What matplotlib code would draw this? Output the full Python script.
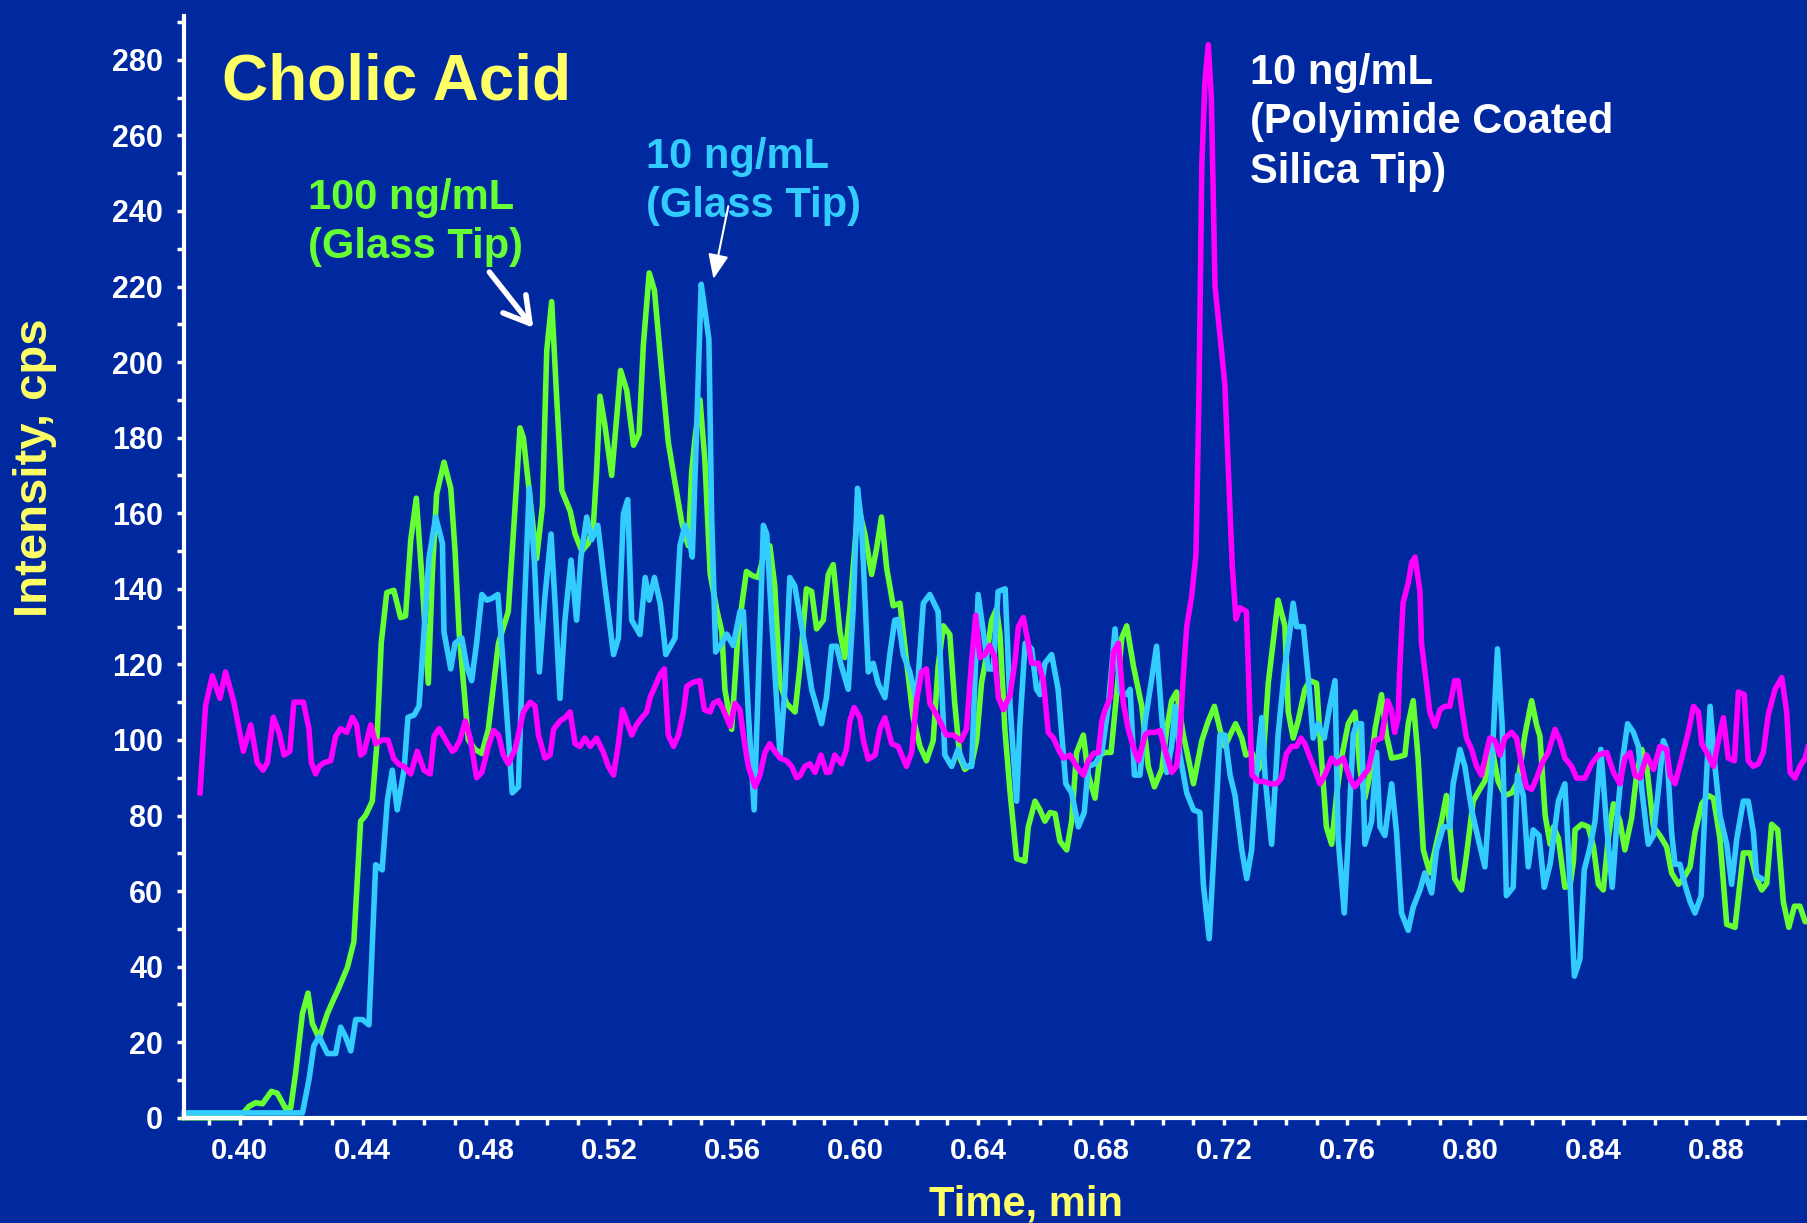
import matplotlib.pyplot as plt
from matplotlib.ticker import MultipleLocator, FormatStrFormatter

# --- data (time in min, intensity in cps) ---
t_green = [0.382, 0.3998, 0.403, 0.4052, 0.4074, 0.4103, 0.4122, 0.4149, 0.4166, 0.4182,
           0.4204, 0.4222, 0.4236, 0.4258, 0.4285, 0.4301, 0.4323, 0.435, 0.4371, 0.4393,
           0.4409, 0.4431, 0.4445, 0.446, 0.4478, 0.4501, 0.4523, 0.4539, 0.4556, 0.4574,
           0.4594, 0.4613, 0.4626, 0.464, 0.4664, 0.4686, 0.47, 0.4713, 0.4743, 0.4765,
           0.4787, 0.4808, 0.4841, 0.4873, 0.4893, 0.4911, 0.4922, 0.4944, 0.4965, 0.4984,
           0.4998, 0.5014, 0.503, 0.5047, 0.5074, 0.509, 0.5112, 0.5133, 0.515, 0.516,
           0.5171, 0.5187, 0.5209, 0.5225, 0.5238, 0.5258, 0.528, 0.5298, 0.5312, 0.5331,
           0.5348, 0.5372, 0.5393, 0.5415, 0.5437, 0.5458, 0.5469, 0.548, 0.5496, 0.5512,
           0.5529, 0.555, 0.5567, 0.5577, 0.5599, 0.562, 0.5647, 0.5666, 0.5685, 0.5707,
           0.5723, 0.5739, 0.5756, 0.5777, 0.5805, 0.5821, 0.5842, 0.5859, 0.5875, 0.5897,
           0.5913, 0.5929, 0.5951, 0.5967, 0.5983, 0.601, 0.6032, 0.6054, 0.607, 0.6086,
           0.6103, 0.6124, 0.6146, 0.6167, 0.6189, 0.6211, 0.6232, 0.6254, 0.627, 0.6287,
           0.6308, 0.6324, 0.6341, 0.6357, 0.6379, 0.6395, 0.6411, 0.6428, 0.6444, 0.646,
           0.6471, 0.6487, 0.6504, 0.6525, 0.6552, 0.6563, 0.6585, 0.6601, 0.6617, 0.6634,
           0.665, 0.6666, 0.6688, 0.6704, 0.672, 0.6742, 0.6758, 0.678, 0.6796, 0.6812,
           0.6832, 0.685, 0.6867, 0.6883, 0.6905, 0.6932, 0.6953, 0.6973, 0.6997, 0.7013,
           0.7029, 0.7045, 0.7067, 0.7083, 0.71, 0.7127, 0.7148, 0.7168, 0.7186, 0.7202,
           0.7219, 0.7237, 0.7257, 0.727, 0.7289, 0.7311, 0.7327, 0.7343, 0.7375, 0.7397,
           0.7408, 0.7424, 0.744, 0.7462, 0.7478, 0.75, 0.7516, 0.7532, 0.7549, 0.7565,
           0.7581, 0.7603, 0.7625, 0.7641, 0.7657, 0.7673, 0.769, 0.7711, 0.7727, 0.7744,
           0.7765, 0.7787, 0.7798, 0.7814, 0.783, 0.7847, 0.7868, 0.7885, 0.7906, 0.7922,
           0.7933, 0.7949, 0.7971, 0.7987, 0.8009, 0.803, 0.8047, 0.8069, 0.809, 0.8112,
           0.8134, 0.8155, 0.8177, 0.8199, 0.8215, 0.8226, 0.8243, 0.8259, 0.827, 0.8286,
           0.8307, 0.8324, 0.8335, 0.834, 0.8362, 0.8383, 0.84, 0.8416, 0.8432, 0.8448,
           0.8465, 0.8486, 0.8502, 0.8524, 0.854, 0.8557, 0.8573, 0.8595, 0.8616, 0.8638,
           0.8654, 0.8676, 0.8692, 0.8714, 0.873, 0.8752, 0.8773, 0.879, 0.8811, 0.8833,
           0.886, 0.8887, 0.8909, 0.893, 0.8947, 0.8963, 0.8979, 0.8999, 0.9017, 0.9035,
           0.9053, 0.9071, 0.9088, 0.91]
v_green = [0, 0, 3, 4, 3.7, 7, 6.5, 2.5, 2.7, 12,
           27.6, 33, 25, 21, 27.6, 30.6, 34.5, 39.8, 46.6, 78.5,
           80, 83.8, 98, 125.6, 139, 139.6, 132.4, 132.8, 153, 164,
           140.8, 115, 143.8, 165, 173.5, 166.6, 150, 128.6, 100, 97.5,
           96.4, 102.8, 125.6, 134, 159, 182.6, 180, 163.6, 148, 162,
           203, 216, 191, 166, 160.6, 154.5, 150, 152, 157.5, 171,
           191, 183.3, 170, 185, 197.8, 192.5, 178, 181, 204.6, 223.6,
           219, 197, 178.8, 168, 157.5, 151.4, 171, 180, 190, 174,
           144, 134.7, 128.6, 113.4, 102.8, 128.6, 144.6, 143.5, 143, 150,
           151.4, 140.8, 115, 109.7, 107.4, 119.5, 140, 139.3, 129.4, 131.7,
           143.8, 146.4, 128.6, 121.8, 134.7, 162, 154.5, 143.8, 150.7, 159,
           145.4, 135.5, 136.2, 121, 105.9, 98.3, 94.5, 99.8, 119.5, 130.2,
           127.9, 109.7, 95.2, 92.2, 93.7, 99.8, 115, 122.6, 131.7, 134.7,
           128, 102.8, 86, 68.6, 67.9, 77, 83.8, 81.5, 78.5, 80.8,
           80.5, 73.2, 70.9, 78.5, 96.7, 101.3, 90.7, 84.6, 96, 96.7,
           96.7, 112, 127, 130.2, 119.5, 108.9, 93, 87.6, 92.2, 102.8,
           110.4, 112.7, 101.3, 95.2, 88.4, 99.8, 105, 108.9, 102.8, 98.3,
           101.3, 104.3, 100.5, 96, 96.7, 92.2, 96, 115, 137, 130.2,
           107.4, 100.5, 105, 113.4, 115.7, 115, 95.2, 77, 72.4, 85.3,
           95.2, 104.3, 107.4, 92.2, 84.6, 90.7, 102.8, 112, 101.3, 95.2,
           95.5, 96, 104.3, 110.4, 95.2, 70.9, 64.8, 70.9, 78.5, 85.3,
           77, 63.3, 60.3, 69.4, 83.8, 86.9, 89.1, 98.3, 89.1, 85.3,
           86, 89.1, 101.3, 110.4, 104, 101, 80, 72.4, 77, 74,
           61, 61.5, 67.9, 76.2, 77.7, 77, 71.7, 61.8, 60.3, 74,
           83.1, 78.5, 70.9, 79.3, 90.7, 97.5, 93, 77, 74.7, 71.7,
           64.8, 61.8, 63.3, 66.4, 75.5, 83.1, 85.3, 84.6, 74, 51.2,
           50.4, 70.1, 70.1, 63.3, 60.3, 62, 77.7, 76.2, 57.2, 50.4,
           56, 56, 51.9, 52]

t_cyan = [0.382, 0.4204, 0.4225, 0.4241, 0.4258, 0.4285, 0.4312, 0.4328, 0.4344, 0.4361,
          0.4377, 0.4399, 0.442, 0.4442, 0.4463, 0.448, 0.4496, 0.4512, 0.4534, 0.4547,
          0.4567, 0.4583, 0.4599, 0.4615, 0.4637, 0.4659, 0.4664, 0.4686, 0.47, 0.4722,
          0.4738, 0.4754, 0.477, 0.4787, 0.4803, 0.482, 0.4839, 0.4857, 0.4873, 0.4886,
          0.4906, 0.4922, 0.4941, 0.4958, 0.4974, 0.4992, 0.5012, 0.5025, 0.5041, 0.5057,
          0.5077, 0.5095, 0.5109, 0.5128, 0.5144, 0.5164, 0.5187, 0.5215, 0.5231, 0.5247,
          0.5261, 0.5274, 0.5301, 0.5318, 0.5331, 0.5348, 0.5367, 0.5385, 0.5415, 0.5431,
          0.5447, 0.5458, 0.5471, 0.5485, 0.55, 0.5512, 0.5525, 0.5534, 0.5547, 0.5567,
          0.5583, 0.5604, 0.5626, 0.5637, 0.5653, 0.5672, 0.5685, 0.5702, 0.5713, 0.5729,
          0.5756, 0.5772, 0.5788, 0.5804, 0.5826, 0.5842, 0.5859, 0.5891, 0.5907, 0.5924,
          0.594, 0.5956, 0.5978, 0.5994, 0.6008, 0.6021, 0.6032, 0.6043, 0.6059, 0.6075,
          0.6097, 0.6113, 0.6129, 0.614, 0.6157, 0.6178, 0.62, 0.6222, 0.6243, 0.627,
          0.6292, 0.6314, 0.6335, 0.6357, 0.6379, 0.64, 0.6417, 0.6433, 0.6449, 0.6465,
          0.6488, 0.6504, 0.6525, 0.6536, 0.6553, 0.6574, 0.659, 0.6601, 0.6617, 0.6639,
          0.666, 0.6672, 0.6685, 0.6704, 0.6726, 0.6745, 0.6758, 0.678, 0.6802, 0.6823,
          0.6845, 0.6861, 0.6883, 0.6894, 0.6908, 0.6926, 0.6943, 0.6962, 0.698, 0.6997,
          0.7013, 0.7029, 0.704, 0.7056, 0.7078, 0.71, 0.7121, 0.7132, 0.7151, 0.717,
          0.7186, 0.7202, 0.7219, 0.7235, 0.7257, 0.7273, 0.7289, 0.7306, 0.7322, 0.7333,
          0.7354, 0.7375, 0.7397, 0.7413, 0.7424, 0.7435, 0.7457, 0.7473, 0.7489, 0.7505,
          0.7525, 0.7543, 0.756, 0.757, 0.759, 0.7603, 0.7619, 0.763, 0.7646, 0.7657,
          0.7679, 0.7695, 0.7706, 0.7722, 0.7744, 0.776, 0.7776, 0.7798, 0.7814, 0.7836,
          0.7852, 0.7874, 0.789, 0.7912, 0.7933, 0.7944, 0.7966, 0.7982, 0.8004, 0.8025,
          0.8047, 0.8069, 0.8088, 0.8103, 0.8117, 0.8139, 0.8153, 0.8172, 0.8188, 0.8204,
          0.8223, 0.824, 0.8259, 0.8286, 0.8307, 0.8324, 0.8338, 0.8356, 0.837, 0.8389,
          0.8405, 0.8424, 0.8443, 0.8461, 0.8479, 0.8494, 0.8511, 0.853, 0.8546, 0.8557,
          0.8578, 0.8595, 0.8611, 0.8627, 0.8638, 0.8654, 0.8665, 0.8681, 0.8697, 0.8714,
          0.873, 0.875, 0.8763, 0.8779, 0.8795, 0.8811, 0.8833, 0.8849, 0.8866, 0.8887,
          0.8903, 0.892, 0.893, 0.8947]
v_cyan = [1.3, 1.3, 10, 19, 21.5, 17, 17, 24, 21.5, 17.7,
          26, 26, 24.6, 67, 65.6, 84, 92, 81.5, 92, 106,
          106.6, 109, 128.6, 148, 159, 152, 128.6, 118.8, 125.6, 127,
          119.5, 115.7, 125.6, 138.5, 137, 137.5, 138.5, 119.5, 101.3, 86,
          87.6, 128.6, 166.6, 147, 118, 137.8, 154.5, 136.2, 111, 131.7,
          147.6, 131.7, 148.4, 159, 153, 156.8, 140.8, 122.6, 127, 159.8,
          163.6, 131.7, 127.9, 143, 137, 143, 136, 122.6, 127, 151.4,
          156.8, 154.5, 148.4, 181.8, 220.6, 213.7, 206, 159, 123.3, 125.6,
          128, 125, 134, 134, 107.4, 81.5, 113.4, 156.8, 154.5, 131.7,
          96, 113.4, 143, 140.8, 130.2, 122.6, 113.4, 104.3, 111.2, 124.8,
          124.8, 119.5, 113.4, 134.7, 166.6, 157.5, 137.8, 118, 120.3, 115,
          111.2, 122.6, 131.7, 131.9, 122.6, 118, 110.4, 136.2, 138.5, 134,
          96, 93, 97.5, 93, 93, 138.5, 128.6, 118.8, 118.8, 139.3,
          140, 108.9, 83.8, 104.3, 125.6, 124.1, 113.4, 112, 120.3, 122.6,
          113.4, 101.3, 88.4, 86, 77, 80.8, 93, 93.7, 96.7, 108.9,
          129.4, 112.7, 112, 113.4, 90.7, 90.7, 105, 115, 124.8, 105.9,
          91.4, 98.3, 108.9, 96, 86, 81.5, 80.8, 61.8, 47.4, 75.5,
          101.3, 101.3, 90.7, 85.3, 70.9, 63.3, 70.9, 92.2, 105.9, 90,
          72.4, 101.3, 119.5, 128.6, 136.2, 130, 130, 116.5, 100.5, 104.3,
          100.5, 108.9, 115.7, 74, 54.2, 74, 101.3, 104.3, 104.3, 72.4,
          78.5, 96.7, 77, 74.7, 88.4, 75.5, 54.2, 49.6, 55.7, 60.3,
          64.8, 59.5, 70.9, 77, 77, 88.4, 97.5, 93, 81.5, 74,
          66.4, 92.2, 124.1, 104.3, 58.8, 61, 90.7, 85.3, 66.4, 76.2,
          74.7, 61, 67.1, 83.8, 88.4, 61.8, 37.5, 42, 65.6, 71.7,
          78.5, 97.5, 77, 61, 81.5, 94.5, 104.3, 102, 98.3, 86.9,
          72.4, 74.7, 86.9, 99.8, 97.5, 75.5, 67.1, 67.1, 61.8, 57.2,
          54.2, 58.8, 83.1, 108.9, 93, 80, 72.4, 61.8, 74, 83.8,
          83.8, 75.5, 64.1, 63.3]

t_magenta = [0.3871, 0.3889, 0.3911, 0.3936, 0.3954, 0.3981, 0.4012, 0.4036, 0.4057, 0.4076,
             0.409, 0.4109, 0.4128, 0.4144, 0.4163, 0.4176, 0.4207, 0.4225, 0.4233, 0.4247,
             0.4258, 0.4274, 0.4296, 0.4312, 0.4328, 0.4348, 0.4366, 0.438, 0.4393, 0.4404,
             0.4426, 0.4442, 0.4464, 0.4482, 0.4501, 0.4518, 0.4534, 0.4556, 0.4577, 0.4599,
             0.4619, 0.4632, 0.4648, 0.4669, 0.4691, 0.47, 0.4716, 0.4733, 0.4749, 0.477,
             0.4787, 0.4808, 0.4825, 0.4841, 0.4857, 0.4873, 0.4895, 0.4922, 0.4944, 0.496,
             0.4971, 0.4992, 0.5009, 0.502, 0.5041, 0.5057, 0.5074, 0.509, 0.5106, 0.5122,
             0.5139, 0.516, 0.5182, 0.5198, 0.5215, 0.5231, 0.5244, 0.5258, 0.5274, 0.529,
             0.5307, 0.5323, 0.5334, 0.535, 0.5366, 0.538, 0.5393, 0.541, 0.5426, 0.5442,
             0.5453, 0.5475, 0.5496, 0.551, 0.5529, 0.554, 0.5556, 0.5572, 0.5594, 0.561,
             0.5626, 0.5637, 0.5653, 0.5675, 0.5691, 0.5707, 0.5723, 0.5739, 0.5756, 0.5777,
             0.5794, 0.581, 0.5821, 0.5837, 0.5853, 0.587, 0.5889, 0.5907, 0.5918, 0.5934,
             0.5956, 0.5972, 0.5983, 0.5997, 0.6016, 0.6027, 0.6043, 0.6065, 0.6081, 0.6097,
             0.6119, 0.614, 0.6167, 0.6184, 0.62, 0.6216, 0.6232, 0.6243, 0.627, 0.6297,
             0.6319, 0.6344, 0.6362, 0.6379, 0.6392, 0.6406, 0.6422, 0.6438, 0.6454, 0.6466,
             0.6482, 0.6504, 0.652, 0.6531, 0.6547, 0.6563, 0.6574, 0.6596, 0.6612, 0.6628,
             0.6645, 0.6661, 0.6677, 0.6699, 0.672, 0.6742, 0.6758, 0.6775, 0.6791, 0.6802,
             0.6813, 0.6829, 0.684, 0.6856, 0.6872, 0.6888, 0.691, 0.6921, 0.6943, 0.6953,
             0.6975, 0.6991, 0.7007, 0.7029, 0.7045, 0.7056, 0.7067, 0.7078, 0.7094, 0.7108,
             0.7118, 0.7127, 0.7137, 0.7148, 0.7158, 0.717, 0.7185, 0.7202, 0.7215, 0.7226,
             0.7238, 0.7251, 0.7272, 0.729, 0.7311, 0.733, 0.7349, 0.737, 0.7386, 0.7402,
             0.7419, 0.7435, 0.7449, 0.7462, 0.7478, 0.7494, 0.7511, 0.7527, 0.7549, 0.7565,
             0.7587, 0.7608, 0.7624, 0.7646, 0.7668, 0.7689, 0.7711, 0.7731, 0.7743, 0.7754,
             0.7765, 0.777, 0.7781, 0.7798, 0.7809, 0.782, 0.7836, 0.7841, 0.7857, 0.7868,
             0.7885, 0.7901, 0.7917, 0.7933, 0.7949, 0.796, 0.7971, 0.7987, 0.8004, 0.802,
             0.8036, 0.8052, 0.8063, 0.808, 0.8096, 0.8112, 0.8134, 0.815, 0.8166, 0.8182,
             0.8199, 0.8215, 0.8232, 0.8253, 0.8275, 0.8291, 0.8307, 0.8329, 0.8345, 0.8372,
             0.8394, 0.8416, 0.8443, 0.8465, 0.8486, 0.8502, 0.8519, 0.8535, 0.8551, 0.8573,
             0.8595, 0.8616, 0.8638, 0.8649, 0.8665, 0.8687, 0.8708, 0.8725, 0.8741, 0.8752,
             0.8768, 0.879, 0.8804, 0.8822, 0.8838, 0.8858, 0.8871, 0.889, 0.8903, 0.8919,
             0.8936, 0.8952, 0.8968, 0.899, 0.9012, 0.9028, 0.9039, 0.9055, 0.9071, 0.9088,
             0.91]
v_magenta = [86, 109, 117, 111, 118, 110, 97, 104, 94, 92,
             94, 106, 102, 96, 97, 110, 110, 103, 94, 91,
             93, 94, 94.5, 101, 103, 102, 106, 104, 96, 96.7,
             104, 99, 100, 100, 95, 93.5, 93, 91, 97, 92,
             91, 101, 103, 100, 97, 97.5, 100, 105, 100.5, 90,
             91.4, 98.3, 102.5, 101.3, 96, 93.7, 97.5, 107.4, 110, 109,
             101.3, 95.2, 96, 102.8, 105, 105.9, 107.4, 99, 98.3, 100.5,
             98.3, 100.5, 96.7, 93, 90.7, 99, 108, 105, 101.3, 104,
             105.9, 107.4, 111.2, 114.2, 117.3, 118.8, 101.3, 98.3, 101.3, 107.4,
             114.2, 115.3, 115.7, 108, 107.4, 109.7, 110.4, 108, 103.6, 109.7,
             108, 101.3, 93, 87.6, 90.7, 96.7, 99, 97, 95.2, 94.5,
             93, 90, 90.5, 93, 93.7, 91.4, 96, 91.4, 91.5, 96,
             93.7, 97.5, 105, 108.6, 105.9, 99.8, 94.9, 96, 103, 105.9,
             99, 98.3, 93, 96.7, 110.4, 118, 118.8, 109.7, 105.9, 101.3,
             101.3, 99.8, 102.8, 121, 133, 121.8, 122.6, 125, 121.8, 111.2,
             108, 112, 121, 130, 132.4, 125.6, 120.3, 120.3, 115.7, 102,
             100.5, 97.5, 95.2, 96, 93, 90.7, 94.5, 96.4, 96.7, 105,
             108, 111.2, 123.3, 125.6, 109.7, 102.8, 96.7, 94.5, 101.3, 102,
             102, 102.5, 97.5, 91.4, 93, 101.3, 117, 130, 138, 149,
             192, 252, 274, 284, 270, 220, 208, 194, 168, 146,
             132, 135, 134, 90.7, 89, 89, 88.4, 88.4, 89.9, 96.4,
             98.3, 98.3, 100.5, 99, 95.5, 92.2, 88.4, 90.7, 95.2, 93.7,
             95.2, 89.9, 87.6, 89.9, 92.2, 99.8, 100.5, 110.4, 108, 102,
             105.9, 118, 136.2, 141.6, 146.9, 148.4, 139.3, 125.6, 115, 107.4,
             103.6, 108, 108.9, 108.9, 115.7, 115.7, 108.9, 100.5, 97.5, 93,
             90.7, 96.7, 100.5, 99.8, 96, 100.5, 102, 100.5, 93.7, 87.6,
             86.9, 89.9, 93.7, 96.7, 102.8, 99.8, 95.2, 93, 89.9, 89.9,
             93.7, 96, 96.7, 91.4, 88.4, 95.2, 96.7, 90.7, 89.9, 96,
             92.2, 98.3, 97.5, 90.7, 88.4, 95.2, 102, 108.9, 107.4, 99,
             96.7, 93, 99, 105.9, 95.2, 94.5, 112.7, 112, 94.5, 93,
             93.7, 96.7, 106.6, 113.4, 116.5, 107.4, 91.4, 89.9, 93, 95.2,
             99]

x_ticks = [0.40, 0.44, 0.48, 0.52, 0.56, 0.60, 0.64, 0.68, 0.72, 0.76, 0.80, 0.84, 0.88]
y_ticks = list(range(0, 281, 20))

bg = '#0029A0'
yellow = '#FFFF66'
green = '#66FF33'
cyan = '#33CCFF'
magenta = '#FF00FF'

plt.rcParams['font.family'] = ['Liberation Sans', 'DejaVu Sans']
plt.rcParams['font.weight'] = 'bold'

W, H = 1807, 1223
fig = plt.figure(figsize=(W / 100, H / 100), dpi=100, facecolor=bg)
ax = fig.add_axes([184 / W, (H - 1117.8) / H, 1 - 184 / W, (1117.8 - 16) / H])
ax.set_facecolor(bg)

ax.plot(t_green, v_green, color=green, lw=4, solid_joinstyle='round', clip_on=False)
ax.plot(t_cyan, v_cyan, color=cyan, lw=4, solid_joinstyle='round', clip_on=False)
ax.plot(t_magenta, v_magenta, color=magenta, lw=4, solid_joinstyle='round', clip_on=False)

ax.set_xlim(0.3819, 0.9094)
ax.set_ylim(0, 291.6)

ax.set_xticks(x_ticks)
ax.xaxis.set_major_formatter(FormatStrFormatter('%.2f'))
ax.xaxis.set_minor_locator(MultipleLocator(0.01))
ax.set_yticks(y_ticks)
ax.yaxis.set_minor_locator(MultipleLocator(10))

for side in ['top', 'right']:
    ax.spines[side].set_visible(False)
for side in ['left', 'bottom']:
    ax.spines[side].set_color('white')
    ax.spines[side].set_linewidth(3)

ax.tick_params(which='both', direction='out', color='white', width=2.5, length=5)
ax.tick_params(axis='x', labelcolor='white', labelsize=21, pad=9)
ax.tick_params(axis='y', labelcolor='white', labelsize=22, pad=10)

# labels
fig.text(1026 / W, 1 - 1204 / H, 'Time, min', color=yellow, fontsize=30,
         fontweight='bold', ha='center', va='center')
fig.text(35 / W, 1 - 468 / H, 'Intensity, cps', color=yellow, fontsize=34,
         fontweight='bold', ha='center', va='center', rotation=90)

ax.text(0.3943, 269.6, 'Cholic Acid', color=yellow, fontsize=46, fontweight='bold',
        ha='left', va='baseline')

ax.text(0.4221, 248.7, '100 ng/mL\n(Glass Tip)', color=green, fontsize=30,
        fontweight='bold', ha='left', va='top', linespacing=1.3)
ax.text(0.5320, 259.7, '10 ng/mL\n(Glass Tip)', color=cyan, fontsize=30,
        fontweight='bold', ha='left', va='top', linespacing=1.3)
ax.text(0.7283, 281.8, '10 ng/mL\n(Polyimide Coated\nSilica Tip)', color='white',
        fontsize=30, fontweight='bold', ha='left', va='top', linespacing=1.3)

# arrows
ax.annotate('', xy=(0.4960, 208.5), xytext=(0.4806, 224.4),
            arrowprops=dict(arrowstyle='->,head_length=0.6,head_width=0.35',
                            color='white', lw=4, mutation_scale=30))
ax.annotate('', xy=(0.5538, 221.3), xytext=(0.5590, 242.0),
            arrowprops=dict(arrowstyle='-|>,head_length=0.6,head_width=0.25',
                            color='white', lw=1.5, mutation_scale=25))

fig.savefig('out.png', dpi=100, facecolor=bg)
